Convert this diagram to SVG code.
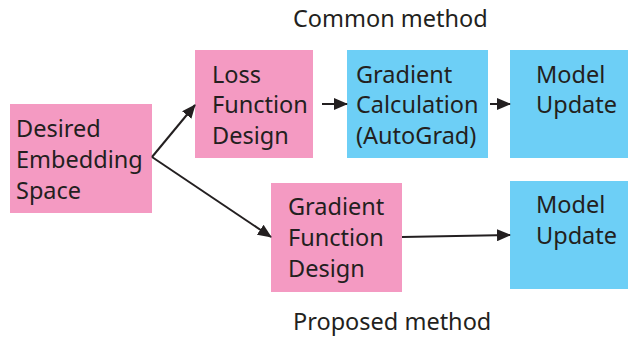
<svg xmlns="http://www.w3.org/2000/svg" width="640" height="337" viewBox="0 0 640 337">
<defs>
<style>
.pink{fill:#f49ac2}
.blue{fill:#6dcff6}
text{font-family:"Noto Sans","Open Sans",sans-serif;font-size:23.5px;fill:#231f20}
.edge{stroke:#231f20;stroke-width:2;fill:none;marker-end:url(#ah)}
</style>
<marker id="ah" markerUnits="userSpaceOnUse" markerWidth="14" markerHeight="12" refX="13" refY="6" orient="auto">
<path d="M0,0 L14,6 L0,12 Z" fill="#231f20"/>
</marker>
</defs>
<rect width="640" height="337" fill="#fff"/>
<text x="293" y="27">Common method</text>
<text x="293" y="330">Proposed method</text>
<g id="desired">
<rect class="pink" x="10" y="104" width="142" height="109"/>
<text x="16" y="137">Desired</text>
<text x="16" y="168">Embedding</text>
<text x="16" y="199">Space</text>
</g>
<g id="loss">
<rect class="pink" x="195" y="50" width="118" height="108"/>
<text x="212" y="83">Loss</text>
<text x="212" y="113">Function</text>
<text x="212" y="144">Design</text>
</g>
<g id="gradcalc">
<rect class="blue" x="347" y="50" width="141" height="108"/>
<text x="356" y="83">Gradient</text>
<text x="356" y="113">Calculation</text>
<text x="356" y="144">(AutoGrad)</text>
</g>
<g id="model1">
<rect class="blue" x="510" y="50" width="118" height="108"/>
<text x="536" y="83">Model</text>
<text x="536" y="113">Update</text>
</g>
<g id="gradfunc">
<rect class="pink" x="271" y="183" width="131" height="109"/>
<text x="288" y="215">Gradient</text>
<text x="288" y="246">Function</text>
<text x="288" y="277">Design</text>
</g>
<g id="model2">
<rect class="blue" x="510" y="181" width="118" height="108"/>
<text x="536" y="213">Model</text>
<text x="536" y="244">Update</text>
</g>
<g id="connectors">
<path class="edge" d="M152,157 L195,105"/>
<path class="edge" d="M152,157 L271,237"/>
<path class="edge" d="M322,104 L347,104"/>
<path class="edge" d="M490,104 L510,104"/>
<path class="edge" d="M402,237 L510,235"/>
</g>
</svg>
